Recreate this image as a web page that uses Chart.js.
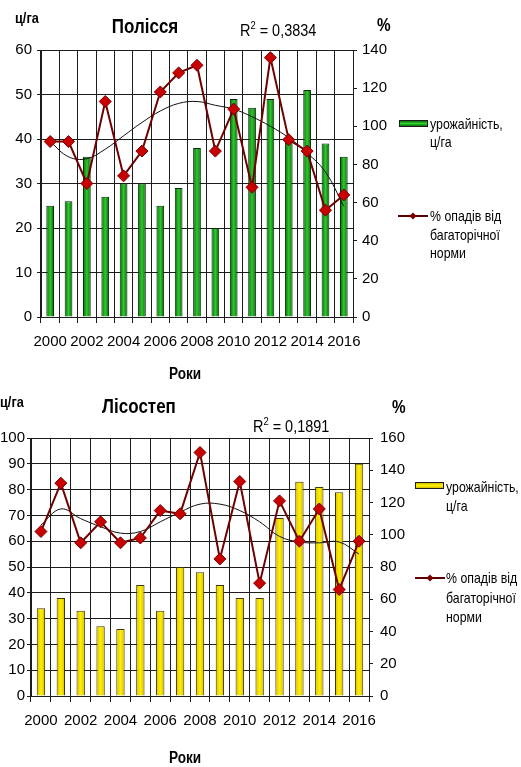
<!DOCTYPE html>
<html lang="uk">
<head>
<meta charset="utf-8">
<title>Урожайність і опади: Полісся, Лісостеп</title>
<script src="https://cdn.jsdelivr.net/npm/chart.js@4.4.1/dist/chart.umd.min.js"></script>
<style>
  html, body { margin: 0; padding: 0; background: #fff; }
  body { width: 521px; height: 767px; position: relative; overflow: hidden;
         font-family: "Liberation Sans", Arial, sans-serif; color: #000; }
  canvas { position: absolute; left: 0; }
  .t { position: absolute; white-space: nowrap; line-height: 1; }
  /* captions use a slightly condensed face */
  .c { transform: translate(-50%, -50%) scaleX(0.85); transform-origin: 50% 50%; }
  .l { transform: translateY(-50%) scaleX(0.85); transform-origin: 0 50%; }
  .b { font-weight: bold; }
  .leg { font-size: 14.5px; }
  .sw { position: absolute; height: 5px; width: 27px; border: 1px solid #1a1a1a; }
  .ln { position: absolute; height: 2px; width: 30px; background: #5a0000; }
  .dm { position: absolute; width: 5px; height: 5px; background: #7a0000; transform: translate(-50%, -50%) rotate(45deg); }
</style>
</head>
<body>
<canvas id="polissia" width="521" height="385" style="top:0"></canvas>
<canvas id="lisostep" width="521" height="382" style="top:385px"></canvas>

<!-- Полісся: captions -->
<div class="t l b" style="left:15px; top:17px; font-size:15px;">ц/га</div>
<div class="t c b" style="left:145px; top:26px; font-size:20px;">Полісся</div>
<div class="t l" style="left:240px; top:30px; font-size:17px;">R<sup style="font-size:11px; vertical-align:7px; line-height:0">2</sup> = 0,3834</div>
<div class="t l b" style="left:377px; top:25px; font-size:18px;">%</div>
<div class="t c b" style="left:185px; top:374px; font-size:16px;">Роки</div>

<!-- Полісся: legend -->
<div class="sw" style="left:399px; top:120px; background:linear-gradient(#0b6e0b,#2fd12f 50%,#0b6e0b);"></div>
<div class="t l leg" style="left:430px; top:124px;">урожайність,</div>
<div class="t l leg" style="left:430px; top:142px;">ц/га</div>
<div class="ln" style="left:398px; top:215px;"></div>
<div class="dm" style="left:413px; top:216px;"></div>
<div class="t l leg" style="left:430px; top:216px;">% опадів від</div>
<div class="t l leg" style="left:430px; top:235px;">багаторічної</div>
<div class="t l leg" style="left:430px; top:253px;">норми</div>

<!-- Лісостеп: captions -->
<div class="t l b" style="left:0px; top:401px; font-size:15px;">ц/га</div>
<div class="t c b" style="left:139px; top:406px; font-size:20px;">Лісостеп</div>
<div class="t l" style="left:253px; top:426px; font-size:17px;">R<sup style="font-size:11px; vertical-align:7px; line-height:0">2</sup> = 0,1891</div>
<div class="t l b" style="left:392px; top:407px; font-size:18px;">%</div>
<div class="t c b" style="left:185px; top:758px; font-size:16px;">Роки</div>

<!-- Лісостеп: legend -->
<div class="sw" style="left:415px; top:482px; background:linear-gradient(#d9bf00,#fff200 50%,#d9bf00);"></div>
<div class="t l leg" style="left:446px; top:487px;">урожайність,</div>
<div class="t l leg" style="left:446px; top:506px;">ц/га</div>
<div class="ln" style="left:415px; top:577px;"></div>
<div class="dm" style="left:430px; top:578px;"></div>
<div class="t l leg" style="left:446px; top:578px;">% опадів від</div>
<div class="t l leg" style="left:446px; top:598px;">багаторічної</div>
<div class="t l leg" style="left:446px; top:617px;">норми</div>

<script>
// Years on the category axis
const years = ['2000', '2001', '2002', '2003', '2004', '2005', '2006', '2007', '2008',
               '2009', '2010', '2011', '2012', '2013', '2014', '2015', '2016'];

// Полісся: yield (ц/га), precipitation (% of long-term norm), polynomial trend of precipitation
const polissiaYield  = [25, 26, 36, 27, 30, 30, 25, 29, 38, 20, 49, 47, 49, 40, 51, 39, 36];
const polissiaPrecip = [92, 92, 70, 113, 74, 87, 118, 128, 132, 87, 109, 68, 136, 93, 87, 56, 64];
const polissiaTrend  = [92, 84, 83, 88, 95, 102, 108, 112, 113, 111, 109, 105, 100, 94, 86, 76, 58];

// Лісостеп: yield (ц/га), precipitation (% of long-term norm), polynomial trend of precipitation
const lisostepYield  = [34, 38, 33, 27, 26, 43, 33, 50, 48, 43, 38, 38, 69, 83, 81, 79, 90];
const lisostepPrecip = [102, 132, 95, 108, 95, 98, 115, 113, 151, 85, 133, 70, 121, 96, 116, 66, 96];
const lisostepTrend  = [106, 116, 110, 105, 101, 102, 108, 114, 119, 119, 115, 108, 99, 95.5, 95, 95.5, 88];

const GRID = '#1c1c1c';
const tickFont = { family: '"Liberation Sans", Arial, sans-serif', size: 15 };

// Horizontal shading across each bar: darker edges, bright middle
function barFill(edge, mid) {
  return (ctx) => {
    const xs = ctx.chart.scales && ctx.chart.scales.x;
    if (!xs || ctx.type !== 'data') return mid;
    const cx = xs.getPixelForValue(ctx.dataIndex);
    const half = xs.width / years.length * 0.21;
    if (!isFinite(cx) || !isFinite(half) || half <= 0) return mid;
    const g = ctx.chart.ctx.createLinearGradient(cx - half, 0, cx + half, 0);
    g.addColorStop(0, edge);
    g.addColorStop(0.5, mid);
    g.addColorStop(1, edge);
    return g;
  };
}

function build(id, o) {
  return new Chart(document.getElementById(id), {
    type: 'bar',
    data: {
      labels: years,
      datasets: [
        {
          type: 'line', label: '% опадів від багаторічної норми',
          data: o.precip, yAxisID: 'p', order: 1,
          borderColor: '#6e0000', borderWidth: 2, tension: 0,
          pointStyle: 'rectRot', pointRadius: 6,
          pointBackgroundColor: '#c80000', pointBorderColor: '#780000', pointBorderWidth: 1
        },
        {
          type: 'line', label: 'Поліноміальна (% опадів)',
          data: o.trend, yAxisID: 'p', order: 2,
          borderColor: '#111', borderWidth: 1, pointRadius: 0, tension: 0.4
        },
        {
          type: 'bar', label: 'урожайність, ц/га',
          data: o.yields, yAxisID: 'y', order: 3,
          backgroundColor: barFill(o.edge, o.mid),
          borderColor: o.border, borderWidth: 1,
          barPercentage: 0.42, categoryPercentage: 1
        }
      ]
    },
    options: {
      responsive: false,
      animation: false,
      events: [],
      layout: { padding: { top: o.padTop, right: o.padRight, left: 0, bottom: 0 } },
      plugins: { legend: { display: false }, tooltip: { enabled: false }, title: { display: false } },
      scales: {
        x: {
          offset: true,
          grid: { offset: true, color: GRID, lineWidth: 1, tickLength: 6, tickColor: GRID },
          border: { color: GRID },
          ticks: {
            autoSkip: false, maxRotation: 0, minRotation: 0, padding: 10,
            font: tickFont, color: '#000',
            callback: (v, i) => (i % 2 === 0 ? years[i] : '')
          },
          afterFit: (s) => { s.height = o.xH; }
        },
        y: {
          position: 'left', min: 0, max: o.yMax,
          ticks: { stepSize: 10, padding: o.lPad, font: tickFont, color: '#000' },
          grid: { color: GRID, lineWidth: 1, tickLength: 4 },
          border: { color: GRID },
          afterFit: (s) => { s.width = o.leftW; }
        },
        p: {
          position: 'right', min: 0, max: o.pMax,
          ticks: { stepSize: 20, padding: o.rPad, font: tickFont, color: '#000' },
          grid: { drawOnChartArea: false, color: GRID, tickLength: 4 },
          border: { color: GRID },
          afterFit: (s) => { s.width = o.rightW; }
        }
      }
    }
  });
}

build('polissia', {
  yields: polissiaYield, precip: polissiaPrecip, trend: polissiaTrend,
  yMax: 60, pMax: 140,
  edge: '#086008', mid: '#2ccc2c', border: '#042a04',
  padTop: 50, padRight: 128, leftW: 41, rightW: 40, xH: 68, lPad: 5, rPad: 5
});

build('lisostep', {
  yields: lisostepYield, precip: lisostepPrecip, trend: lisostepTrend,
  yMax: 100, pMax: 160,
  edge: '#d8bc00', mid: '#fff000', border: '#3e3800',
  padTop: 53, padRight: 112, leftW: 31, rightW: 40, xH: 71, lPad: 2, rPad: 7
});
</script>
</body>
</html>
